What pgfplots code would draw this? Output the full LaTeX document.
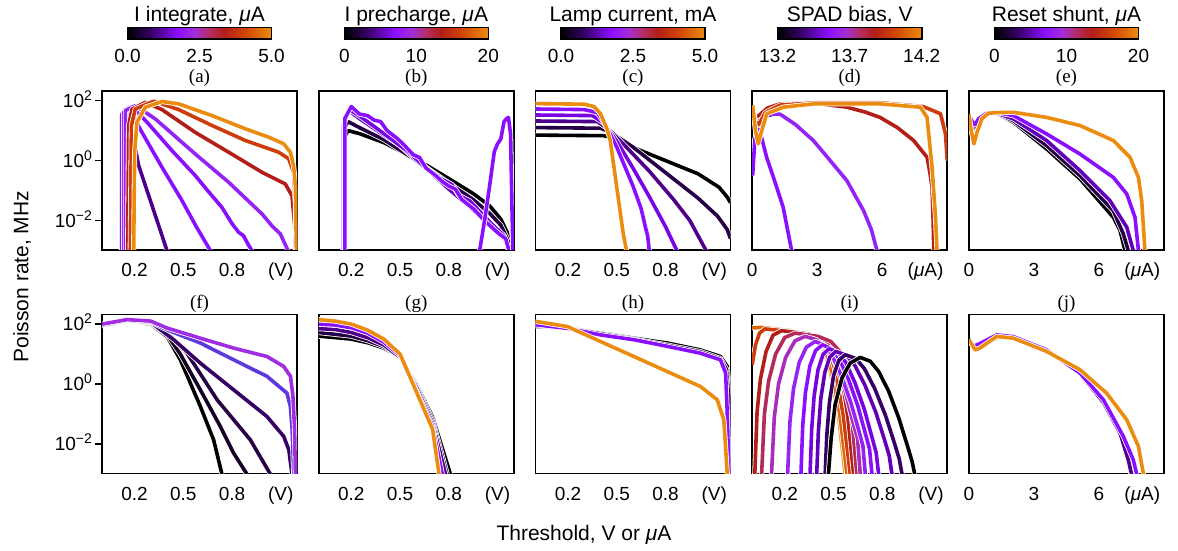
\documentclass[border=0pt]{standalone}
\usepackage{fontspec}
\setmainfont{Liberation Sans}
\newfontfamily\seriffont{Liberation Serif}
\usepackage{pgfplots}
\pgfplotsset{compat=1.18}
\definecolor{c00}{RGB}{0,0,0}
\definecolor{c05}{RGB}{22,0,38}
\definecolor{c10}{RGB}{38,0,68}
\definecolor{c15}{RGB}{55,0,100}
\definecolor{c20}{RGB}{78,0,140}
\definecolor{c25}{RGB}{98,0,185}
\definecolor{c30}{RGB}{120,5,225}
\definecolor{c35}{RGB}{138,15,255}
\definecolor{c40}{RGB}{150,35,245}
\definecolor{c45}{RGB}{160,45,225}
\definecolor{c50}{RGB}{168,45,190}
\definecolor{c60}{RGB}{180,42,90}
\definecolor{c70}{RGB}{180,30,25}
\definecolor{c80}{RGB}{205,60,10}
\definecolor{c90}{RGB}{222,100,12}
\definecolor{c100}{RGB}{235,140,15}
\definecolor{cbv}{RGB}{95,55,225}
\newcommand\tf{\fontsize{9.5}{11}\selectfont}
\newcommand\tl[1]{10\raisebox{3.6pt}{\fontsize{7}{8}\selectfont #1}}
\pgfplotsset{
  colormap={cmap}{rgb255(0pt)=(0,0,0); rgb255(15pt)=(50,0,95); rgb255(35pt)=(140,15,255); rgb255(47pt)=(165,45,215); rgb255(57pt)=(180,45,100); rgb255(67pt)=(180,30,25); rgb255(82pt)=(210,70,8); rgb255(100pt)=(235,140,15)},
  every axis title/.style={at={(0.5,1)}, anchor=base, inner sep=0pt},
  cl/.style={line width=1.8pt, line join=round, preaction={draw=white, line width=2.6pt}},
  panel/.style={scale only axis, width=97.5pt, height=79.5pt, anchor=north west,
    ymin=-2.98, ymax=2.32, axis line style={line width=0.9pt},
    tick label style={font=\tf, inner sep=0pt},
    xticklabel style={anchor=base, yshift=-10pt},
    xtick style={draw=none}, ytick=\empty, ytick pos=left, tick align=outside,
    major tick length=3.5pt, ytick style={line width=0.8pt, black},
    title style={font=\seriffont\fontsize{9.5}{11}\selectfont, yshift=4.35pt},
    colormap name=cmap},
  bot/.style={title style={yshift=-1.1pt}},
  vx/.style={xmin=0, xmax=1.2, xtick={0.2,0.5,0.8,1.1}, xticklabels={0.2,0.5,0.8,(V)}},
  ux/.style={xmin=0, xmax=9, xtick={0,3,6,8}, xticklabels={0,3,6,{(\textit{μ}A)}}},
  ylab/.style={ytick={-2,0,2}, yticklabels={\tl{−2},\tl{0},\tl{2}},
    yticklabel style={anchor=base east, yshift=-3.4pt, xshift=-1.35pt}},
  cbar/.style n args={4}{colorbar horizontal, colorbar shift/.style={}, point meta min=#1, point meta max=#2,
    colorbar style={at={(parent axis.north)}, anchor=south, yshift=25.85pt, scale only axis,
      width=72pt, height=5.8pt, #3,
      xticklabel style={font=\tf, anchor=base, yshift=-11.85pt, inner sep=0pt},
      xtick style={draw=none}, title={#4},
      title style={font=\fontsize{10.5}{12}\selectfont, yshift=2.9pt},
      axis line style={line width=0.8pt}}},
}
\begin{document}
\begin{tikzpicture}
\useasboundingbox (0,0) rectangle (589pt,-275.5pt);
% ---------------- (a)
\begin{axis}[panel, vx, ylab, at={(51pt,-45.5pt)}, title={(a)},
  cbar={0}{5}{xtick={0,2.5,5}, xticklabels={0.0,2.5,5.0}}{I integrate, \textit{μ}A}]
\addplot[cl,c20] coordinates {(0.119,-3) (0.119,1.5) (0.144,1.72) (0.185,0.94) (0.226,-0.17) (0.308,-1.5) (0.4,-3)};
\addplot[cl,c35] coordinates {(0.123,-3) (0.123,1.56) (0.164,1.78) (0.246,0.94) (0.369,-0.22) (0.492,-1.33) (0.58,-2.2) (0.667,-3)};
\addplot[cl,c35] coordinates {(0.133,-3) (0.133,1.61) (0.185,1.81) (0.287,1.22) (0.431,0.33) (0.574,-0.5) (0.65,-1.0) (0.738,-1.56) (0.8,-2.1) (0.841,-2.39) (0.87,-2.5) (0.9,-2.8) (0.923,-3)};
\addplot[cl,c40] coordinates {(0.144,-3) (0.144,1.67) (0.205,1.83) (0.328,1.39) (0.574,0.22) (0.779,-0.72) (0.985,-1.78) (1.05,-2.2) (1.097,-2.44) (1.145,-3)};
\addplot[cl,c70] coordinates {(0.158,-3) (0.164,1.17) (0.185,1.72) (0.267,1.94) (0.369,1.7) (0.574,0.94) (0.779,0.28) (0.985,-0.39) (1.128,-0.78) (1.169,-1.17) (1.186,-2.17) (1.19,-3)};
\addplot[cl,c80] coordinates {(0.174,-3) (0.181,1.17) (0.205,1.72) (0.318,1.98) (0.472,1.7) (0.677,1.17) (0.882,0.67) (1.087,0.28) (1.149,0.06) (1.179,-0.39) (1.19,-1.39) (1.194,-3)};
\addplot[cl,c100] coordinates {(0.195,-3) (0.201,0.28) (0.215,1.28) (0.267,1.78) (0.369,1.97) (0.472,1.89) (0.677,1.5) (0.882,1.06) (1.026,0.78) (1.118,0.56) (1.159,0.28) (1.179,-0.17) (1.19,-0.83) (1.196,-3)};
\end{axis}
% ---------------- (b)
\begin{axis}[panel, vx, at={(159.4pt,-45.5pt)}, title={(b)},
  cbar={0}{20}{xtick={0,10,20}, xticklabels={0,10,20}}{I precharge, \textit{μ}A}]
\addplot[cl,c00] coordinates {(0.15,-3) (0.15,0.7) (0.18,1.0) (0.25,0.9) (0.4,0.6) (0.6,0.05) (0.8,-0.6) (0.95,-1.1) (1.05,-1.5) (1.12,-1.95) (1.16,-2.4) (1.18,-3)};
\addplot[cl,c10] coordinates {(0.15,-3) (0.15,1.0) (0.18,1.3) (0.25,1.1) (0.4,0.7) (0.6,0.0) (0.8,-0.75) (0.95,-1.3) (1.05,-1.75) (1.12,-2.15) (1.16,-2.6) (1.18,-3)};
\addplot[cl,c25] coordinates {(0.15,-3) (0.15,1.2) (0.19,1.65) (0.25,1.4) (0.4,0.85) (0.5,0.5) (0.6,0.0) (0.7,-0.45) (0.8,-0.95) (0.9,-1.4) (1.0,-1.9) (1.08,-2.3) (1.14,-2.6) (1.17,-3)};
\addplot[cl,c30] coordinates {(0.155,-3) (0.155,1.3) (0.19,1.7) (0.26,1.45) (0.35,1.1) (0.45,0.7) (0.55,0.3) (0.65,-0.2) (0.75,-0.6) (0.82,-0.8) (0.86,-1.15) (0.93,-1.35) (1.0,-1.75) (1.08,-2.2) (1.14,-2.5) (1.17,-3)};
\addplot[cl,c35] coordinates {(0.16,-3) (0.16,1.4) (0.2,1.8) (0.25,1.55) (0.3,1.5) (0.34,1.35) (0.38,1.3) (0.42,1.0) (0.48,0.75) (0.52,0.55) (0.58,0.2) (0.62,0.1) (0.66,-0.25) (0.72,-0.5) (0.76,-0.7) (0.8,-0.85) (0.84,-0.95) (0.88,-1.3) (0.95,-1.6) (1.02,-2.0) (1.1,-2.4) (1.15,-2.6) (1.17,-3)};
\addplot[cl,c35] coordinates {(0.99,-3) (1.02,-2.0) (1.05,-0.89) (1.08,0.3) (1.1,0.56) (1.12,0.72) (1.14,1.3) (1.155,1.4) (1.167,1.44) (1.18,0.89) (1.19,-1.9) (1.195,-3)};
\end{axis}
% ---------------- (c)
\begin{axis}[panel, vx, at={(267.75pt,-45.5pt)}, title={(c)},
  cbar={0}{5}{xtick={0,2.5,5}, xticklabels={0.0,2.5,5.0}}{Lamp current, mA}]
\addplot[cl,c00] coordinates {(0,0.85) (0.42,0.83) (0.5,0.72) (0.6,0.44) (0.7,0.22) (0.8,0.0) (0.9,-0.22) (1.0,-0.44) (1.13,-0.89) (1.18,-1.22) (1.2,-1.4)};
\addplot[cl,c10] coordinates {(0,1.1) (0.4,1.08) (0.46,0.95) (0.6,0.45) (0.8,-0.4) (1.0,-1.25) (1.12,-1.85) (1.18,-2.3) (1.2,-2.6)};
\addplot[cl,c20] coordinates {(0,1.32) (0.38,1.3) (0.45,1.05) (0.55,0.5) (0.7,-0.35) (0.85,-1.3) (0.95,-2.0) (1.05,-3)};
\addplot[cl,c30] coordinates {(0,1.52) (0.35,1.5) (0.42,1.25) (0.5,0.65) (0.6,-0.25) (0.7,-1.2) (0.8,-2.2) (0.87,-3)};
\addplot[cl,c35] coordinates {(0,1.72) (0.3,1.7) (0.38,1.6) (0.43,1.2) (0.5,0.45) (0.55,-0.2) (0.6,-0.85) (0.65,-1.6) (0.68,-2.3) (0.69,-2.5) (0.7,-3)};
\addplot[cl,c100] coordinates {(0,1.9) (0.3,1.88) (0.36,1.8) (0.4,1.56) (0.44,1.05) (0.46,0.67) (0.5,-0.89) (0.54,-2.44) (0.56,-3)};
\end{axis}
% ---------------- (d)
\begin{axis}[panel, ux, at={(376.1pt,-45.5pt)}, title={(d)},
  cbar={13.2}{14.2}{xtick={13.2,13.7,14.2}, xticklabels={13.2,13.7,14.2}}{SPAD bias, V}]
\addplot[cl,c35] coordinates {(0.02,-0.5) (0.12,0.7) (0.25,1.05) (0.35,1.0) (0.67,0.1) (1.0,-0.6) (1.43,-1.56) (1.82,-3)};
\addplot[cl,c40] coordinates {(0.02,1.4) (0.2,1.35) (0.5,1.45) (1.0,1.55) (1.28,1.55) (2.0,1.2) (2.82,0.67) (3.6,0.0) (4.37,-0.67) (5.14,-1.67) (5.5,-2.3) (5.76,-3)};
\addplot[cl,c70] coordinates {(0.02,1.7) (0.15,1.45) (0.3,1.5) (0.7,1.75) (1.28,1.89) (2.8,1.92) (4.37,1.78) (5.2,1.62) (5.9,1.44) (6.7,1.1) (7.45,0.67) (8.07,0.11) (8.2,-0.4) (8.3,-0.89) (8.35,-2) (8.38,-3)};
\addplot[cl,c80] coordinates {(0.02,1.8) (0.15,1.3) (0.3,1.2) (0.6,1.6) (1.28,1.85) (3.0,1.93) (5.9,1.93) (7.9,1.8) (8.69,1.56) (8.92,0.89) (9.0,0.0)};
\addplot[cl,c100] coordinates {(0.02,1.85) (0.15,1.0) (0.28,0.56) (0.4,0.9) (0.67,1.56) (1.43,1.78) (2.82,1.89) (5.9,1.89) (7.76,1.78) (8.07,1.44) (8.3,-0.22) (8.46,-1.89) (8.53,-3)};
\end{axis}
% ---------------- (e)
\begin{axis}[panel, ux, at={(484.5pt,-45.5pt)}, title={(e)},
  cbar={0}{20}{xtick={0,10,20}, xticklabels={0,10,20}}{Reset shunt, \textit{μ}A}]
\addplot[cl,c00] coordinates {(0,1.5) (0.15,1.2) (0.28,1.06) (0.45,1.3) (0.82,1.56) (1.28,1.57) (2.05,1.28) (3.58,0.39) (5.12,-0.61) (6.66,-1.89) (6.97,-2.33) (7.2,-3)};
\addplot[cl,c10] coordinates {(0,1.5) (0.15,1.22) (0.28,1.1) (0.45,1.32) (0.82,1.56) (1.28,1.57) (2.05,1.33) (3.58,0.5) (5.12,-0.5) (6.66,-1.67) (7.12,-2.44) (7.35,-3)};
\addplot[cl,c25] coordinates {(0,1.5) (0.15,1.25) (0.28,1.15) (0.45,1.35) (0.82,1.57) (1.28,1.58) (2.05,1.39) (3.58,0.67) (5.12,-0.33) (6.5,-1.33) (7.28,-2.22) (7.58,-3)};
\addplot[cl,c35] coordinates {(0,1.5) (0.15,1.3) (0.28,1.2) (0.45,1.4) (0.82,1.58) (1.28,1.6) (2.05,1.5) (3.58,0.89) (5.12,0.22) (6.66,-0.56) (7.28,-1.11) (7.66,-1.89) (7.82,-3)};
\addplot[cl,c100] coordinates {(0,1.55) (0.1,1.0) (0.23,0.56) (0.35,0.9) (0.6,1.4) (0.9,1.58) (1.3,1.6) (2.05,1.61) (3.58,1.44) (5.12,1.17) (6.66,0.67) (7.43,0.11) (7.82,-0.56) (7.97,-1.33) (8.12,-3)};
\end{axis}
% ---------------- (f)
\begin{axis}[panel, bot, vx, ylab, at={(51pt,-157.25pt)}, title={(f)}]
\addplot[cl,c00] coordinates {(0,1.95) (0.154,2.12) (0.3,2.0) (0.4,1.59) (0.482,0.81) (0.605,-0.74) (0.687,-1.86) (0.738,-3)};
\addplot[cl,c05] coordinates {(0,1.95) (0.154,2.12) (0.3,2.03) (0.4,1.65) (0.482,1.0) (0.605,-0.19) (0.728,-1.41) (0.81,-2.3) (0.892,-3)};
\addplot[cl,c10] coordinates {(0,1.95) (0.154,2.12) (0.3,2.05) (0.4,1.72) (0.523,1.03) (0.708,-0.52) (0.913,-1.86) (1.036,-3)};
\addplot[cl,c15] coordinates {(0,1.95) (0.154,2.12) (0.3,2.06) (0.441,1.48) (0.605,0.7) (0.81,-0.19) (1.015,-1.08) (1.118,-1.74) (1.15,-2.2) (1.169,-3)};
\addplot[cl,cbv] coordinates {(0,1.97) (0.154,2.13) (0.3,2.07) (0.4,1.81) (0.605,1.37) (0.81,0.81) (1.015,0.26) (1.138,-0.3) (1.159,-0.74) (1.17,-1.5) (1.18,-3)};
\addplot[cl,c45] coordinates {(0,2.0) (0.154,2.15) (0.3,2.1) (0.4,1.87) (0.605,1.53) (0.81,1.2) (1.015,0.92) (1.118,0.59) (1.16,0.26) (1.175,-0.41) (1.185,-1.5) (1.19,-3)};
\end{axis}
% ---------------- (g)
\begin{axis}[panel, bot, vx, at={(159.4pt,-157.25pt)}, title={(g)}]
\addplot[cl,c00] coordinates {(0,1.6) (0.2,1.5) (0.3,1.38) (0.4,1.2) (0.5,0.9) (0.6,0.0) (0.7,-1.1) (0.81,-3)};
\addplot[cl,c10] coordinates {(0,1.72) (0.2,1.6) (0.3,1.45) (0.4,1.25) (0.5,0.9) (0.6,-0.05) (0.7,-1.2) (0.79,-3)};
\addplot[cl,c20] coordinates {(0,1.85) (0.1,1.82) (0.2,1.72) (0.3,1.55) (0.4,1.3) (0.5,0.9) (0.6,-0.1) (0.7,-1.3) (0.78,-3)};
\addplot[cl,c35] coordinates {(0,2.0) (0.1,1.97) (0.2,1.88) (0.3,1.7) (0.4,1.4) (0.5,0.95) (0.6,-0.2) (0.7,-1.4) (0.76,-3)};
\addplot[cl,c100] coordinates {(0,2.15) (0.1,2.1) (0.2,2.0) (0.3,1.8) (0.4,1.5) (0.5,1.0) (0.6,-0.25) (0.7,-1.5) (0.74,-3)};
\end{axis}
% ---------------- (h)
\begin{axis}[panel, bot, vx, at={(267.75pt,-157.25pt)}, title={(h)}]
\addplot[cl,c00] coordinates {(0,1.92) (0.195,1.87) (0.4,1.7) (0.605,1.53) (0.81,1.37) (1.015,1.14) (1.138,0.92) (1.18,0.59) (1.19,-0.19) (1.2,-3)};
\addplot[cl,c15] coordinates {(0,1.95) (0.195,1.87) (0.4,1.68) (0.605,1.5) (0.81,1.3) (1.015,1.08) (1.138,0.85) (1.175,0.5) (1.19,-0.5) (1.2,-3)};
\addplot[cl,c35] coordinates {(0,1.98) (0.195,1.86) (0.4,1.64) (0.605,1.48) (0.81,1.26) (1.015,1.03) (1.138,0.81) (1.17,0.37) (1.18,-0.97) (1.19,-3)};
\addplot[cl,c100] coordinates {(0,2.09) (0.195,1.92) (0.4,1.42) (0.605,0.92) (0.81,0.42) (1.015,-0.08) (1.118,-0.52) (1.159,-1.19) (1.18,-3)};
\end{axis}
% ---------------- (i)
\begin{axis}[panel, bot, vx, at={(376.1pt,-157.25pt)}, title={(i)}]
\addplot[cl,c100] coordinates {(0,1.89) (0.03,1.9) (0.233,1.79) (0.345,1.62) (0.437,1.23) (0.48,0.45) (0.53,-1.0) (0.572,-3)};
\addplot[cl,c90] coordinates {(0,1.87) (0.05,1.89) (0.237,1.78) (0.351,1.61) (0.445,1.22) (0.489,0.44) (0.539,-1.01) (0.583,-3)};
\addplot[cl,c80] coordinates {(0,0.64) (0.02,1.3) (0.045,1.7) (0.078,1.84) (0.275,1.73) (0.383,1.56) (0.472,1.17) (0.514,0.39) (0.561,-1.06) (0.603,-3)};
\addplot[cl,c70] coordinates {(0.016,-3) (0.03,-0.92) (0.051,0.18) (0.085,1.08) (0.128,1.63) (0.181,1.78) (0.347,1.67) (0.438,1.5) (0.513,1.11) (0.549,0.33) (0.589,-1.12) (0.624,-3)};
\addplot[cl,c60] coordinates {(0.058,-3) (0.075,-1.0) (0.101,0.1) (0.144,1.0) (0.2,1.55) (0.263,1.7) (0.406,1.59) (0.484,1.42) (0.549,1.03) (0.579,0.25) (0.614,-1.2) (0.644,-3)};
\addplot[cl,c50] coordinates {(0.119,-3) (0.136,-1.1) (0.162,0.0) (0.206,0.89) (0.263,1.44) (0.325,1.59) (0.39,1.49) (0.441,1.29) (0.502,0.79) (0.566,-0.11) (0.617,-1.21) (0.648,-1.81) (0.665,-3)};
\addplot[cl,c40] coordinates {(0.218,-3) (0.232,-1.27) (0.254,-0.16) (0.289,0.72) (0.333,1.23) (0.387,1.42) (0.446,1.29) (0.492,0.95) (0.548,0.29) (0.606,-0.6) (0.653,-1.49) (0.681,-2.05) (0.696,-3)};
\addplot[cl,c35] coordinates {(0.3,-3) (0.311,-1.38) (0.328,-0.27) (0.355,0.61) (0.39,1.12) (0.432,1.31) (0.49,1.18) (0.536,0.84) (0.591,0.18) (0.649,-0.71) (0.694,-1.6) (0.722,-2.16) (0.737,-3)};
\addplot[cl,c30] coordinates {(0.356,-3) (0.366,-1.51) (0.381,-0.4) (0.405,0.48) (0.436,0.99) (0.473,1.18) (0.531,1.05) (0.577,0.71) (0.632,0.05) (0.69,-0.84) (0.735,-1.73) (0.763,-2.29) (0.778,-3)};
\addplot[cl,c25] coordinates {(0.397,-3) (0.407,-1.6) (0.422,-0.49) (0.447,0.39) (0.477,0.9) (0.515,1.09) (0.581,0.96) (0.632,0.62) (0.694,-0.04) (0.76,-0.93) (0.812,-1.82) (0.843,-2.38) (0.86,-3)};
\addplot[cl,c15] coordinates {(0.449,-3) (0.459,-1.72) (0.475,-0.62) (0.501,0.29) (0.533,0.79) (0.572,0.98) (0.639,0.85) (0.691,0.51) (0.754,-0.15) (0.82,-1.04) (0.873,-1.93) (0.905,-2.5) (0.922,-3)};
\addplot[cl,c00] coordinates {(0.469,-3) (0.486,-1.8) (0.51,-0.69) (0.552,0.2) (0.603,0.7) (0.665,0.89) (0.727,0.76) (0.778,0.42) (0.84,-0.24) (0.902,-1.13) (0.953,-2.02) (0.984,-2.58) (1.0,-3)};
\end{axis}
% ---------------- (j)
\begin{axis}[panel, bot, ux, at={(484.5pt,-157.25pt)}, title={(j)}]
\addplot[cl,c00] coordinates {(0,1.5) (0.2,1.25) (0.5,1.3) (1.28,1.53) (2.05,1.55) (3.58,1.12) (5.12,0.35) (6.2,-0.63) (6.97,-1.63) (7.35,-2.52) (7.48,-3)};
\addplot[cl,c20] coordinates {(0,1.48) (0.2,1.26) (0.5,1.33) (1.28,1.56) (2.05,1.55) (3.58,1.12) (5.12,0.35) (6.2,-0.6) (6.97,-1.63) (7.35,-2.52) (7.5,-3)};
\addplot[cl,c35] coordinates {(0,1.48) (0.2,1.26) (0.5,1.35) (1.28,1.64) (2.05,1.58) (3.58,1.14) (5.12,0.37) (6.2,-0.52) (7.12,-1.74) (7.58,-2.52) (7.74,-3)};
\addplot[cl,c100] coordinates {(0,1.48) (0.28,1.14) (0.5,1.2) (1.28,1.59) (2.05,1.53) (3.58,1.09) (5.12,0.48) (6.35,-0.3) (7.28,-1.19) (7.82,-2.08) (8.05,-3)};
\end{axis}
\node[rotate=90, anchor=base, font=\fontsize{10.5}{12}\selectfont] at (14.15pt,-138.3pt) {Poisson rate, MHz};
\node[anchor=base, font=\fontsize{10.5}{12}\selectfont] at (292pt,-270.3pt) {Threshold, V or \textit{μ}A};
\end{tikzpicture}
\end{document}
